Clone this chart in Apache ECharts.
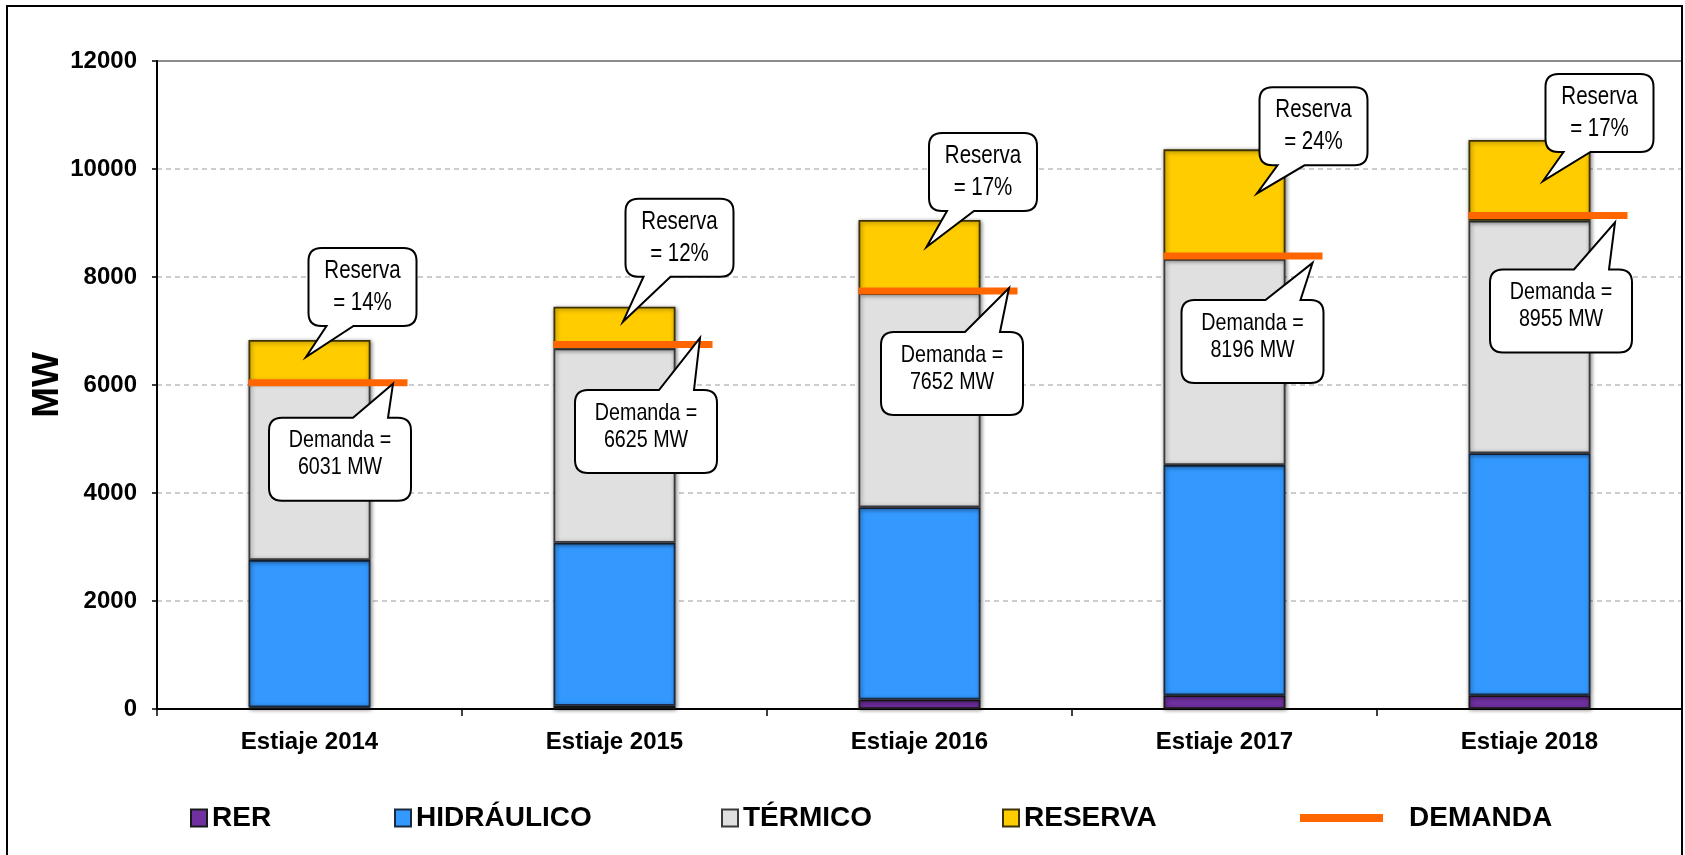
<!DOCTYPE html>
<html>
<head>
<meta charset="utf-8">
<script src="https://cdn.jsdelivr.net/npm/echarts@6/dist/echarts.min.js"></script>
<style>
html,body{margin:0;padding:0;background:#fff;}
#chart{width:1685px;height:855px;}
</style>
</head>
<body>
<div id="chart"></div>
<script>
// ---- data (MW) ----
const categories = ['Estiaje 2014', 'Estiaje 2015', 'Estiaje 2016', 'Estiaje 2017', 'Estiaje 2018'];
const rer        = [30, 60, 175, 255, 255];
const hidraulico = [2729, 3020, 3560, 4263, 4480];
const termico    = [3302, 3599, 3963, 3815, 4308];
const reserva    = [772, 771, 1358, 2031, 1494];
const demandaLine = [6040, 6750, 7740, 8390, 9140];   // level at which the orange line is drawn
const demandaMW   = [6031, 6625, 7652, 8196, 8955];   // values written in the callouts
const reservaPct  = [14, 12, 17, 24, 17];
const yMin = 0, yMax = 12000, yStep = 2000;

// ---- layout of the callouts (pixel offsets, not data) ----
const reserveLayout = [
  {tip: [-3.5, 17], boxBottom: -31},
  {tip: [8.5, 15],  boxBottom: -45},
  {tip: [7, 27],    boxBottom: -36},
  {tip: [32.5, 44], boxBottom: -28},
  {tip: [13.5, 41], boxBottom: -29}
];
const demandLayout = [
  {tip: [83.5, 1],  boxLeft: -124, boxTop: 34},
  {tip: [85.5, -6.5], boxLeft: -125, boxTop: 52},
  {tip: [89.5, -3], boxLeft: -128, boxTop: 44},
  {tip: [88, 7],    boxLeft: -131, boxTop: 37},
  {tip: [85.5, 7],  boxLeft: -125, boxTop: 47}
];

const totals = categories.map((_, i) => rer[i] + hidraulico[i] + termico[i] + reserva[i]);
const FONT = 'Liberation Sans, Arial, sans-serif';

function boxPath(x0, y0, w, h, r, side, b0, b1, tx, ty) {
  const x1 = x0 + w, y1 = y0 + h;
  if (side === 'bottom') {
    return `M${x0+r} ${y0} L${x1-r} ${y0} Q${x1} ${y0} ${x1} ${y0+r} L${x1} ${y1-r} Q${x1} ${y1} ${x1-r} ${y1} ` +
      `L${b1} ${y1} L${tx} ${ty} L${b0} ${y1} L${x0+r} ${y1} Q${x0} ${y1} ${x0} ${y1-r} L${x0} ${y0+r} Q${x0} ${y0} ${x0+r} ${y0} Z`;
  }
  return `M${x0+r} ${y0} L${b0} ${y0} L${tx} ${ty} L${b1} ${y0} L${x1-r} ${y0} Q${x1} ${y0} ${x1} ${y0+r} L${x1} ${y1-r} ` +
    `Q${x1} ${y1} ${x1-r} ${y1} L${x0+r} ${y1} Q${x0} ${y1} ${x0} ${y1-r} L${x0} ${y0+r} Q${x0} ${y0} ${x0+r} ${y0} Z`;
}

function barStyle(color, border) {
  return {
    color: color, borderColor: border, borderWidth: 1.8,
    shadowColor: 'rgba(0,0,0,0.45)', shadowBlur: 4, shadowOffsetX: 1, shadowOffsetY: 1
  };
}

const chart = echarts.init(document.getElementById('chart'));
const legendCommon = {
  top: 804, padding: 0, itemWidth: 16, itemHeight: 17, icon: 'rect', selectedMode: false,
  textStyle: {fontSize: 28, fontWeight: 'bold', fontFamily: FONT, color: '#000'}
};

chart.setOption({
  backgroundColor: '#fff',
  animation: false,
  textStyle: {fontFamily: FONT},
  grid: {left: 157, right: 3, top: 61, bottom: 146, show: true, borderColor: '#8c8c8c', borderWidth: 2, backgroundColor: 'transparent'},
  legend: [
    Object.assign({}, legendCommon, {data: ['RER'], left: 190}),
    Object.assign({}, legendCommon, {data: ['HIDRÁULICO'], left: 394}),
    Object.assign({}, legendCommon, {data: ['TÉRMICO'], left: 721}),
    Object.assign({}, legendCommon, {data: ['RESERVA'], left: 1002}),
    Object.assign({}, legendCommon, {data: ['DEMANDA'], left: 1300, top: 804, itemWidth: 83, itemHeight: 8,
      textStyle: {fontSize: 28, fontWeight: 'bold', fontFamily: FONT, color: '#000', padding: [12, 0, 0, 21]}})
  ],
  xAxis: {
    type: 'category', data: categories,
    axisLine: {lineStyle: {color: '#000', width: 2}},
    axisTick: {show: true, length: 7, lineStyle: {color: '#000', width: 1.5}},
    axisLabel: {fontSize: 24, fontWeight: 'bold', color: '#000', margin: 21, fontFamily: FONT}
  },
  yAxis: {
    type: 'value', min: yMin, max: yMax, interval: yStep,
    name: 'MW', nameLocation: 'middle', nameGap: 91, nameMoveOverlap: false,
    nameTextStyle: {fontSize: 37, fontWeight: 'bold', color: '#000', fontFamily: FONT},
    axisLine: {show: true, lineStyle: {color: '#000', width: 2}},
    axisTick: {show: true, length: 5, lineStyle: {color: '#000', width: 1.5}},
    axisLabel: {fontSize: 24, fontWeight: 'bold', color: '#000', margin: 20, fontFamily: FONT,
                formatter: function (v) { return String(v); }},
    splitLine: {showMaxLine: false, lineStyle: {color: '#bdbdbd', width: 1.5, type: [5, 4]}}
  },
  graphic: [{
    type: 'rect', z: 100, silent: true,
    shape: {x: 7, y: 6, width: 1675, height: 900},
    style: {fill: 'none', stroke: '#000', lineWidth: 2}
  }],
  series: [
    {name: 'RER', type: 'bar', stack: 'total', barWidth: '40%', data: rer, itemStyle: barStyle('#7030A0', '#1a1a1a')},
    {name: 'HIDRÁULICO', type: 'bar', stack: 'total', data: hidraulico, itemStyle: barStyle('#3399FF', '#1a2a40')},
    {name: 'TÉRMICO', type: 'bar', stack: 'total', data: termico, itemStyle: barStyle('#E0E0E0', '#3a3a3a')},
    {name: 'RESERVA', type: 'bar', stack: 'total', data: reserva, itemStyle: barStyle('#FFCC00', '#3d3200')},
    {
      name: 'DEMANDA', type: 'custom', z: 4,
      itemStyle: {color: '#FF6600'},
      encode: {x: 0, y: 1},
      data: demandaLine.map((v, i) => [i, v]),
      renderItem: function (params, api) {
        const p = api.coord([api.value(0), api.value(1)]);
        return {type: 'rect', shape: {x: p[0] - 61, y: p[1] - 3.5, width: 159, height: 7},
                style: {fill: '#FF6600'}};
      }
    },
    {
      name: 'reservaCallout', type: 'custom', z: 6, silent: true,
      encode: {x: 0, y: 1},
      data: totals.map((v, i) => [i, v]),
      renderItem: function (params, api) {
        const i = params.dataIndex, L = reserveLayout[i];
        const p = api.coord([api.value(0), api.value(1)]);
        const tx = p[0] + L.tip[0], ty = p[1] + L.tip[1];
        const w = 108, h = 78;
        const x0 = tx + 2.5, y0 = ty + L.boxBottom - h;
        return {type: 'group', children: [
          {type: 'path', shape: {pathData: boxPath(x0, y0, w, h, 13, 'bottom', x0 + 18, x0 + 45, tx, ty)},
           style: {fill: '#fff', stroke: '#000', lineWidth: 2}},
          {type: 'text', x: x0 + w / 2, y: y0 + h / 2, scaleX: 0.82,
           style: {text: 'Reserva\n= ' + reservaPct[i] + '%', x: 0, y: 0, align: 'center', verticalAlign: 'middle',
                   fontSize: 25, lineHeight: 32, fontFamily: FONT, fill: '#000'}}
        ]};
      }
    },
    {
      name: 'demandaCallout', type: 'custom', z: 5, silent: true,
      encode: {x: 0, y: 1},
      data: demandaLine.map((v, i) => [i, v]),
      renderItem: function (params, api) {
        const i = params.dataIndex, L = demandLayout[i];
        const p = api.coord([api.value(0), api.value(1)]);
        const tx = p[0] + L.tip[0], ty = p[1] + L.tip[1];
        const w = 142, h = 83;
        const x0 = tx + L.boxLeft, y0 = ty + L.boxTop;
        return {type: 'group', children: [
          {type: 'path', shape: {pathData: boxPath(x0, y0, w, h, 13, 'top', x0 + 84, x0 + 119, tx, ty)},
           style: {fill: '#fff', stroke: '#000', lineWidth: 2}},
          {type: 'text', x: x0 + w / 2, y: y0 + h / 2 - 5, scaleX: 0.82,
           style: {text: 'Demanda =\n' + demandaMW[i] + ' MW', x: 0, y: 0, align: 'center', verticalAlign: 'middle',
                   fontSize: 24, lineHeight: 27, fontFamily: FONT, fill: '#000'}}
        ]};
      }
    }
  ]
});
</script>
</body>
</html>
